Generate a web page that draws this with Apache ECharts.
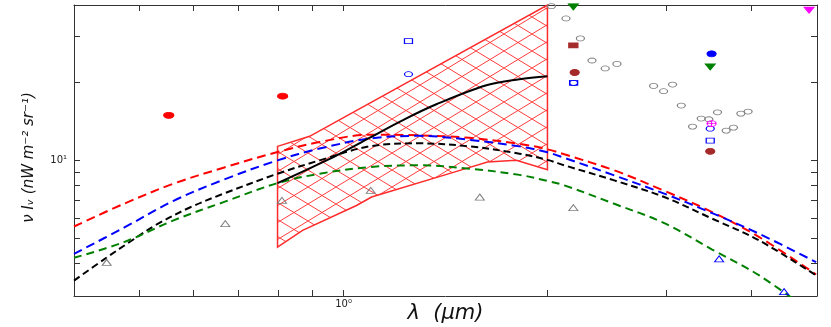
<!DOCTYPE html>
<html>
<head>
<meta charset="utf-8">
<script src="https://cdn.jsdelivr.net/npm/echarts@6/dist/echarts.min.js"></script>
<style>
  html, body { margin: 0; padding: 0; background: #fff; }
  #chart_one { width: 831px; height: 327px; }
</style>
</head>
<body>
<div id="chart_one"></div>
<script>
// wavelength grid (micron) for the model curves
const lamGrid = [0.400, 0.474, 0.561, 0.665, 0.799, 0.922, 1.092, 1.294, 1.534, 1.818, 2.000, 2.118, 2.510, 2.975, 3.501, 4.109, 4.985];
const redModel   = [5.56, 6.80, 8.13, 9.37, 10.77, 11.77, 12.55, 12.49, 12.21, 11.58, 11.03, 10.55, 9.15, 7.63, 6.32, 5.06, 3.63];
const blueModel  = [4.36, 5.50, 6.98, 8.42, 10.00, 11.10, 12.13, 12.43, 12.00, 11.32, 10.74, 10.22, 8.75, 7.44, 6.26, 5.21, 4.05];
const greenModel = [4.21, 4.84, 5.87, 6.90, 8.17, 8.88, 9.42, 9.57, 9.29, 8.79, 8.33, 8.01, 6.80, 5.73, 4.53, 3.60, 2.52];

const lamBlack   = [0.400, 0.447, 0.487, 0.530, 0.593, 0.665, 0.799, 0.922, 1.092, 1.294, 1.534, 1.818, 2.000, 2.118, 2.510, 2.975, 3.501, 4.109, 4.985];
const blackModel = [3.44, 4.22, 4.91, 5.66, 6.58, 7.44, 8.88, 10.00, 11.32, 11.63, 11.32, 10.61, 10.04, 9.57, 8.37, 7.22, 5.96, 4.91, 3.60];

const lamSolid   = [0.799, 0.922, 0.977, 1.092, 1.222, 1.371, 1.625, 1.818, 2.000];
const solidModel = [8.17, 9.71, 10.45, 12.21, 14.27, 16.45, 19.48, 20.54, 21.10];

// hatched band: upper and lower edges
const hatchUpper = [[0.799, 11.32], [0.891, 12.38], [2.000, 39.68]];
const hatchLower = [[0.799, 4.63], [0.870, 5.37], [1.045, 6.70], [1.100, 7.22], [1.498, 9.21], [1.631, 9.85], [1.799, 10.00], [2.000, 9.21]];

// data points
const redDots      = [[0.552, 14.92], [0.813, 17.67]];
const blueOpenSq   = [[1.247, 28.80], [2.186, 19.89], [3.478, 11.91]];
const blueOpenCirc = [[1.247, 21.48], [2.186, 19.89], [3.478, 13.25]];
const blueDot      = [[3.494, 25.73]];
const greyCircles  = [[2.027, 39.3], [2.130, 35.24], [2.237, 29.51], [2.327, 24.26], [2.434, 22.60], [2.533, 23.54],
                      [2.869, 19.36], [2.968, 18.47], [3.060, 19.60], [3.152, 16.26], [3.275, 13.49], [3.373, 14.49],
                      [3.462, 14.40], [3.565, 15.32], [3.672, 13.02], [3.764, 13.37], [3.860, 15.14], [3.956, 15.42]];
const greenDown    = [[2.184, 39.07], [3.478, 22.92]];
const brownSq      = [[2.184, 27.72]];
const brownDots    = [[2.194, 21.81], [3.478, 10.83]];
const magentaPlus  = [[3.494, 13.86]];
const magentaDown  = [[4.867, 37.94]];
const greyTri      = [[0.447, 4.04], [0.669, 5.70], [0.811, 7.01], [1.097, 7.66], [1.589, 7.22], [2.184, 6.57]];
const blueTri      = [[3.585, 4.17], [4.471, 3.12]];

// ticks
const xTicks = [0.5, 0.6, 0.7, 0.8, 0.9, 1, 2, 3, 4];
const xLabelVals = [1];
const xLabelText = ['10⁰'];
const yTicks = [4, 5, 6, 7, 8, 9, 10, 20, 30];
const yLabelVals = [10];
const yLabelText = ['10¹'];

function zip(xs, ys) { return xs.map((x, i) => [x, ys[i]]); }

function hatchCanvas() {
  const w = 28, h = 17;
  const c = document.createElement('canvas');
  c.width = w; c.height = h;
  const g = c.getContext('2d');
  g.strokeStyle = '#ff3c3c';
  g.lineWidth = 1;
  g.beginPath();
  g.moveTo(-w, -h); g.lineTo(2 * w, 2 * h);
  g.moveTo(-w, 2 * h); g.lineTo(2 * w, -h);
  g.stroke();
  return c;
}
const hatch = hatchCanvas();

var myChart = echarts.init(document.getElementById('chart_one'));
var font = 'DejaVu Sans';
var axisColor = '#333';

function xAx(pos, withLabels) {
  return {
    type: 'log', logBase: 10, min: 0.4, max: 5, position: pos,
    axisLine: { show: true, onZero: false, lineStyle: { color: axisColor, width: 1 } },
    axisTick: { show: true, inside: true, length: 6, customValues: xTicks, lineStyle: { color: axisColor } },
    axisLabel: {
      show: withLabels, customValues: xLabelVals, margin: 3, fontSize: 10, color: '#222', fontFamily: font,
      formatter: function (v) { return xLabelText[xLabelVals.indexOf(v)] || ''; }
    },
    splitLine: { show: false },
    name: withLabels ? 'λ  (μm)' : '',
    nameLocation: 'middle', nameGap: 7, nameMoveOverlap: false,
    nameTextStyle: { fontSize: 21, fontStyle: 'italic', fontFamily: font, color: '#111' }
  };
}
function yAx(pos, withLabels) {
  return {
    type: 'log', logBase: 10, min: 3, max: 39.7, position: pos,
    axisLine: { show: true, onZero: false, lineStyle: { color: axisColor, width: 1 } },
    axisTick: { show: true, inside: true, length: 6, customValues: yTicks, lineStyle: { color: axisColor } },
    axisLabel: {
      show: withLabels, customValues: yLabelVals, margin: 7, fontSize: 10, color: '#222', fontFamily: font,
      formatter: function (v) { return yLabelText[yLabelVals.indexOf(v)] || ''; }
    },
    splitLine: { show: false },
    name: withLabels ? 'ν Iᵥ (nW m⁻² sr⁻¹)' : '',
    nameLocation: 'middle', nameGap: 37, nameMoveOverlap: false,
    nameTextStyle: { fontSize: 15, fontStyle: 'italic', fontFamily: font, color: '#111', padding: [0, 14, 0, 0] }
  };
}

function dashed(name, data, color, dash) {
  return {
    name: name, type: 'line', data: data, showSymbol: false, smooth: 0.35, z: 3,
    lineStyle: { color: color, width: 2, type: dash }
  };
}
function pts(name, data, symbol, size, fill, stroke, rotate) {
  return {
    name: name, type: 'scatter', data: data, symbol: symbol, symbolSize: size, symbolRotate: rotate || 0, z: 5,
    itemStyle: { color: fill, borderColor: stroke, borderWidth: 1, opacity: 1 }
  };
}

var option = {
  animation: false,
  backgroundColor: '#fff',
  grid: { left: 74, right: 14, top: 5, bottom: 31, containLabel: false, outerBoundsMode: 'none' },
  xAxis: [xAx('bottom', true), xAx('top', false)],
  yAxis: [yAx('left', true), yAx('right', false)],
  series: [
    {
      name: 'band', type: 'custom', data: [[1, 10]], z: 1, silent: true,
      renderItem: function (params, api) {
        var poly = hatchUpper.concat(hatchLower.slice().reverse()).map(function (p) { return api.coord(p); });
        return {
          type: 'polygon', shape: { points: poly },
          style: { fill: { image: hatch, repeat: 'repeat' }, stroke: '#ff2a2a', lineWidth: 1.5 }
        };
      }
    },
    dashed('red', zip(lamGrid, redModel), '#ff0000', [9, 5]),
    dashed('blue', zip(lamGrid, blueModel), '#0000ff', [9, 5]),
    dashed('black', zip(lamBlack, blackModel), '#000000', [7, 4]),
    dashed('green', zip(lamGrid, greenModel), '#008000', [8, 5]),
    {
      name: 'solid', type: 'line', data: zip(lamSolid, solidModel), showSymbol: false, smooth: 0.35, z: 4,
      lineStyle: { color: '#000', width: 2 }
    },
    pts('redDots', redDots, 'circle', [10, 6], '#ff0000', '#ff0000'),
    pts('blueOpenSq', blueOpenSq, 'rect', [8, 5], 'rgba(0,0,0,0)', '#0000ff'),
    pts('blueOpenCirc', blueOpenCirc, 'circle', [8, 5], 'rgba(0,0,0,0)', '#0000ff'),
    pts('blueDot', blueDot, 'circle', [9, 6], '#0000ff', '#0000ff'),
    pts('greyCircles', greyCircles, 'circle', [8, 5], 'rgba(0,0,0,0)', '#808080'),
    pts('greenDown', greenDown, 'triangle', [10, 6], '#008000', '#008000', 180),
    pts('brownSq', brownSq, 'rect', [9, 5], '#a52a2a', '#a52a2a'),
    pts('brownDots', brownDots, 'circle', [9, 6], '#a52a2a', '#a52a2a'),
    pts('magentaPlus', magentaPlus, 'path://M0,5 A5,5 0 1,1 10,5 A5,5 0 1,1 0,5 Z M5,0 L5,10 M0,5 L10,5', [9, 6], 'rgba(0,0,0,0)', '#ff00ff'),
    pts('magentaDown', magentaDown, 'triangle', [10, 6], '#ff00ff', '#ff00ff', 180),
    pts('greyTri', greyTri, 'triangle', [9, 6], 'rgba(0,0,0,0)', '#808080'),
    pts('blueTri', blueTri, 'triangle', [9, 6], 'rgba(0,0,0,0)', '#0000ff')
  ]
};

myChart.setOption(option);
</script>
</body>
</html>
